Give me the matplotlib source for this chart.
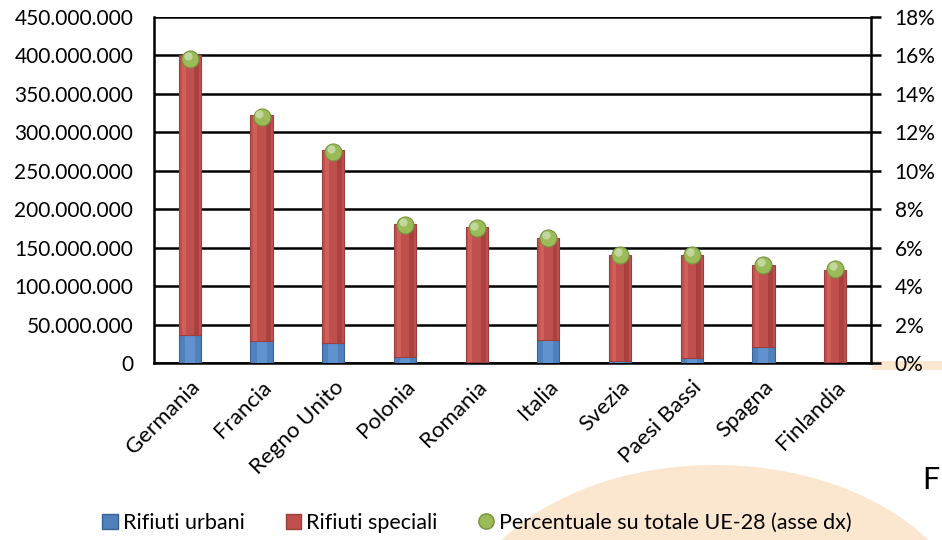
import matplotlib.pyplot as plt
import numpy as np
from matplotlib.lines import Line2D
from matplotlib.patches import Ellipse, Patch
from matplotlib.ticker import FuncFormatter, MultipleLocator

plt.rcParams["font.family"] = ["Lato", "DejaVu Sans"]

countries = ["Germania", "Francia", "Regno Unito", "Polonia", "Romania",
             "Italia", "Svezia", "Paesi Bassi", "Spagna", "Finlandia"]
urbani = [36.5e6, 28e6, 26.5e6, 8e6, 1.5e6, 30e6, 3e6, 6e6, 20.5e6, 1.5e6]
totale = [400e6, 323e6, 277e6, 181e6, 177e6, 163e6, 140e6, 140e6, 127e6, 121e6]
percent = [0.158, 0.128, 0.110, 0.072, 0.070, 0.065, 0.056, 0.056, 0.051, 0.049]

speciali = np.array(totale) - np.array(urbani)

BLUE = "#4F81BD"
RED = "#C0504D"
GREEN = "#9BBB59"

fig = plt.figure(figsize=(9.42, 5.4), dpi=100)

# slide background blob behind the chart
fig.patches.append(Ellipse((715 / 942, 1 - 640 / 540), 520 / 942, 350 / 540,
                           transform=fig.transFigure, fc="#FBE7D0",
                           ec="none", zorder=-1))
fig.patches.append(plt.Rectangle((872 / 942, 1 - 370 / 540), 70 / 942, 9 / 540,
                                 transform=fig.transFigure, fc="#FBE7D0",
                                 ec="none", zorder=-1))
fig.text(922 / 942, 1 - 480 / 540, "F", fontsize=22, va="center", ha="left")

ax = fig.add_axes([154 / 942, 1 - 363 / 540, 717 / 942, 346 / 540])
ax.patch.set_alpha(0)
x = np.arange(len(countries))
w = 0.31

# stacked bars with a bit of shading to mimic the 3d look
ax.bar(x, urbani, w, color=BLUE, edgecolor="#3A6296", lw=0.8, zorder=3)
ax.bar(x, urbani, w * 0.45, color="#5F92CF", lw=0, zorder=3)
ax.bar(x, speciali, w, bottom=urbani, color=RED, edgecolor="#9C3F3C",
       lw=0.8, zorder=3)
ax.bar(x - w * 0.28, speciali, w * 0.18, bottom=urbani, color="#D25E5A",
       lw=0, zorder=3)
ax.bar(x + w * 0.3, speciali, w * 0.22, bottom=urbani, color="#A9423F",
       lw=0, zorder=3)

ax.set_xlim(-0.5, len(countries) - 0.5)
ax.set_ylim(0, 450e6)
ax.yaxis.set_major_locator(MultipleLocator(50e6))
ax.yaxis.set_major_formatter(FuncFormatter(lambda v, _: f"{int(v):,}".replace(",", ".")))
ax.grid(axis="y", color="black", lw=1.8, zorder=1)
ax.tick_params(axis="y", length=0, pad=15, labelsize=15)
ax.tick_params(axis="x", length=0, pad=10, labelsize=16)
ax.set_xticks(x)
ax.set_xticklabels(countries, rotation=45, ha="right", rotation_mode="anchor")
for s in ["left", "bottom", "right"]:
    ax.spines[s].set_linewidth(1.8)
ax.spines["top"].set_visible(False)

ax2 = ax.twinx()
ax2.set_ylim(0, 0.18)
ax2.yaxis.set_major_locator(MultipleLocator(0.02))
ax2.yaxis.set_major_formatter(FuncFormatter(lambda v, _: f"{v * 100:.0f}%"))
ax2.tick_params(axis="y", length=7, width=1.8, pad=10, labelsize=15)
for s in ax2.spines.values():
    s.set_visible(False)
ax2.scatter(x, percent, s=150, color=GREEN, edgecolor="#76923C", lw=0.8, zorder=5)
ax2.scatter(x - 0.03, np.array(percent) + 0.0015, s=35, color="#C3D69B",
            lw=0, zorder=6)

handles = [
    Patch(facecolor=BLUE, edgecolor="#3A6296", label="Rifiuti urbani"),
    Patch(facecolor=RED, edgecolor="#9C3F3C", label="Rifiuti speciali"),
    Line2D([], [], marker="o", ls="none", ms=11, markerfacecolor=GREEN,
           markeredgecolor="#76923C", label="Percentuale su totale UE-28 (asse dx)"),
]
fig.legend(handles=handles, loc="center", bbox_to_anchor=(477 / 942, 1 - 523 / 540),
           ncol=3, frameon=False, fontsize=15.5, handlelength=0.7, handleheight=0.7,
           handletextpad=0.25, columnspacing=1.9)

fig.savefig("out.png", dpi=100)
